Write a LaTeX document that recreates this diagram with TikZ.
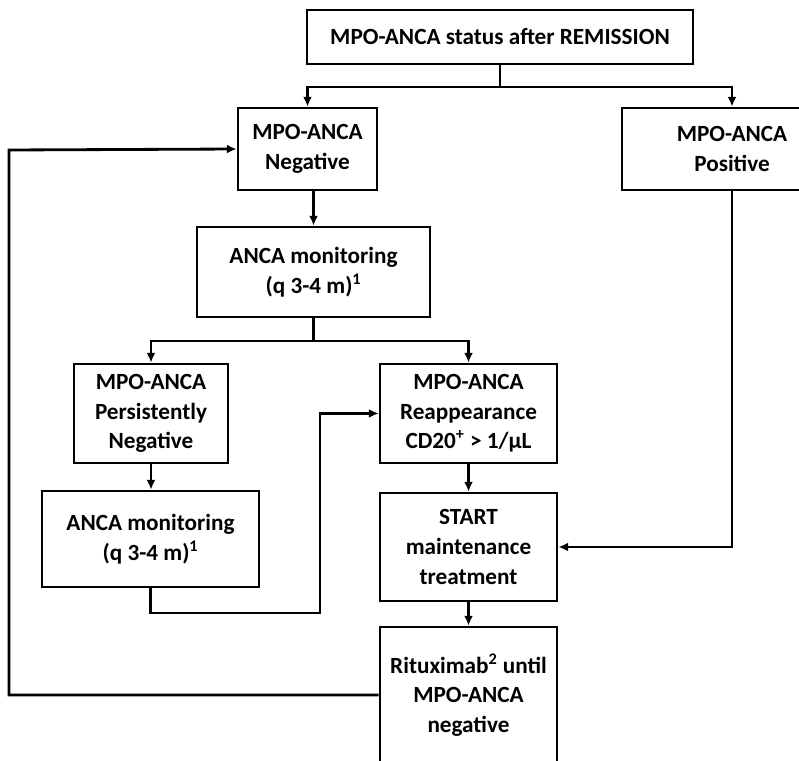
\documentclass[tikz,border=0pt]{standalone}
\usepackage{fontspec}
\setmainfont{Carlito}
\usetikzlibrary{arrows.meta}
\begin{document}
\begin{tikzpicture}[
  x=0.025cm, y=-0.025cm,
  box/.style = {draw, line width=2pt, align=center, inner sep=2pt,
                font=\fontsize{16.5}{21}\selectfont\bfseries},
  arrow/.style = {line width=2pt, -{Latex[length=2.4mm,width=2.2mm]}},
  line/.style = {line width=2pt}
]

% canvas 799 x 760 px, 1px = 0.025cm, y runs downwards
\useasboundingbox (0,0) rectangle (799,760);
\clip (0,0) rectangle (799,760);

% Row 1
\node [box, minimum width=9.65cm, minimum height=1.35cm] (status) at (500,37)
  {MPO-ANCA status after REMISSION};

% Row 2 (right box runs off the right edge)
\node [box, minimum width=3.475cm, minimum height=2.05cm] (neg) at (307.5,149)
  {MPO-ANCA\\Negative};
\node [box, minimum width=5.5cm, minimum height=2.05cm] (pos) at (732,149)
  {MPO-ANCA\\Positive};

% Row 3
\node [box, minimum width=5.825cm, minimum height=2.25cm] (mon) at (313.5,272)
  {ANCA monitoring\\(q 3-4 m)\textsuperscript{1}};

% Row 4
\node [box, minimum width=3.85cm, minimum height=2.475cm] (persist) at (151,413.5)
  {MPO-ANCA\\Persistently\\Negative};
\node [box, minimum width=4.425cm, minimum height=2.475cm] (reapp) at (468.5,413.5)
  {MPO-ANCA\\Reappearance\\CD20\textsuperscript{+} > 1/µL};

% Row 5
\node [box, minimum width=5.425cm, minimum height=2.4cm] (monagain) at (150.5,539)
  {ANCA monitoring\\(q 3-4 m)\textsuperscript{1}};
\node [box, minimum width=4.425cm, minimum height=2.7cm] (start) at (468.5,547)
  {START\\maintenance\\treatment};

% Row 6 (runs off the bottom edge)
\node [box, minimum width=4.425cm, minimum height=3.4cm] (ritux) at (468.5,695)
  {Rituximab\textsuperscript{2} until\\MPO-ANCA\\negative};

% Bends
\coordinate (split1) at (500,87);
\coordinate (split2) at (313.5,341);
\coordinate (jog) at (320,613);
\coordinate (loop) at (9,150);

% Arrows
\draw [line] (status.south) -- (split1);
\draw [arrow] (split1) -| (neg.north);
\draw [arrow] (split1) -| (pos.north);
\draw [arrow] (mon.north |- neg.south) -- (mon.north);
\draw [line] (mon.south) -- (split2);
\draw [arrow] (split2) -| (persist.north);
\draw [arrow] (split2) -| (reapp.north);
\draw [arrow] (persist.south) -- (persist.south |- monagain.north);
\draw [arrow] (monagain.south) |- (jog) |- (reapp.west);
\draw [arrow] (reapp.south) -- (start.north);
\draw [arrow] (pos.south) |- (start.east);
\draw [arrow] (start.south) -- (ritux.north);
\draw [arrow] (ritux.west) -| (loop) -- (neg.west);

\end{tikzpicture}
\end{document}
